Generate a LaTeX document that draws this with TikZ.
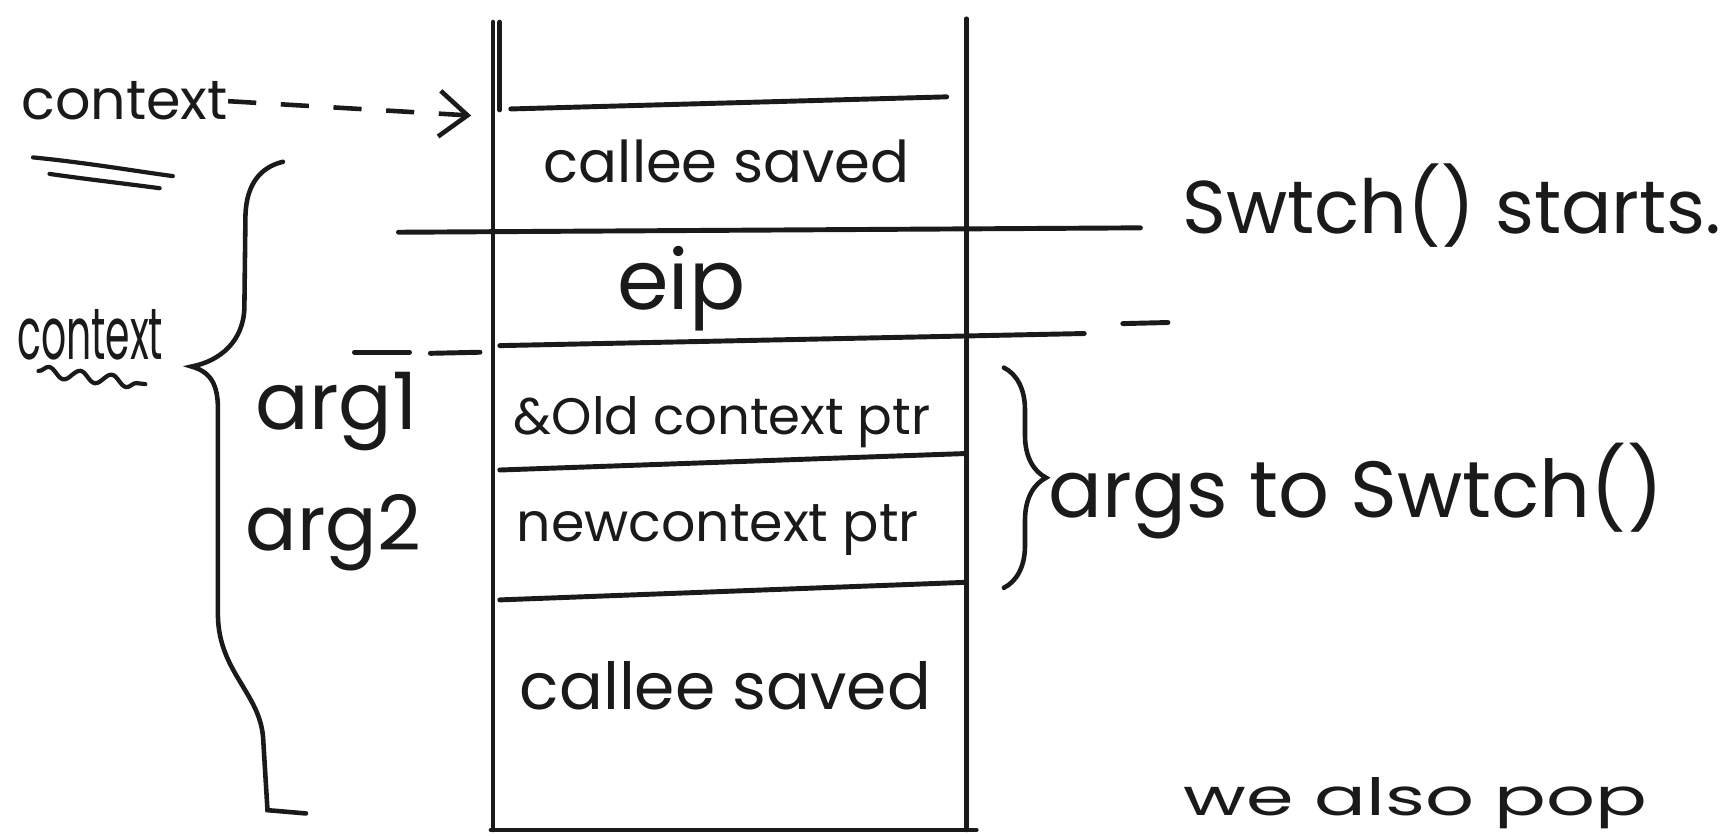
\documentclass[tikz,border=0pt]{standalone}
\usepackage{fontspec}
\setmainfont{Poppins}
\usetikzlibrary{arrows.meta,decorations.pathreplacing,decorations.pathmorphing}
\definecolor{ink}{HTML}{1A1A1A}
\newcommand{\fitw}[2]{\resizebox{#1}{!}{#2}}
\newcommand{\fitwh}[3]{\resizebox{#1}{#2}{#3}}
\begin{document}
\begin{tikzpicture}[x=0.011cm,y=-0.011cm,
  lbl/.style={inner sep=0pt, text=ink, anchor=base},
  wall/.style={line width=1.3pt, draw=ink, line cap=round},
  slot/.style={line width=1.4pt, draw=ink, line cap=round},
  uline/.style={line width=1.2pt, draw=ink, line cap=round},
  dashlink/.style={line width=1.3pt, draw=ink, dash pattern=on 8pt off 7pt, -{Straight Barb[length=8pt,width=13pt,line width=1.3pt]}},
  bracepath/.style={line width=1.3pt, draw=ink, line cap=round}]
\useasboundingbox (0,0) rectangle (1568,759);

% labels
\node[lbl] (ctxt) at (113,109) {\fitw{2.06cm}{context}};
\node[lbl] (ctx2) at (82,327) {\fitwh{1.46cm}{0.5cm}{context}};
\node[lbl] (arg1) at (306,390) {\fitw{1.62cm}{arg1}};
\node[lbl] (arg2) at (303,500) {\fitw{1.75cm}{arg2}};
\node[lbl] (cs1) at (660,166) {\fitw{3.65cm}{callee saved}};
\node[lbl] (eip) at (619,281) {\fitw{1.28cm}{eip}};
\node[lbl] (old) at (656,395) {\fitw{4.16cm}{\&Old context ptr}};
\node[lbl] (new) at (652,492) {\fitw{4.02cm}{newcontext ptr}};
\node[lbl] (cs2) at (659,645) {\fitw{4.11cm}{callee saved}};
\node[lbl] (starts) at (1319,212) {\fitw{5.39cm}{Swtch() starts.}};
\node[lbl] (args) at (1232,470) {\fitw{6.14cm}{args to Swtch()}};
\node[lbl] (pop) at (1286,741) {\fitwh{4.63cm}{0.38cm}{we also pop}};

% arrow from context to stack top
\coordinate (top) at (428,105);
\draw[dashlink] (ctxt.east) -- (top);

% underlines
\draw[uline] (30,143) .. controls (80,148) and (120,155) .. (157,160);
\draw[uline] (45,158) .. controls (80,163) and (115,167) .. (145,171);
\draw[uline, decorate, decoration={snake,amplitude=1.5pt,segment length=9pt}] (35,337) -- (132,349);

% stack walls
\draw[wall] (448,20) -- (448,754);
\draw[wall] (454,20) -- (454,100);
\draw[wall] (878,17) -- (878,754);
\draw[wall] (446,754) -- (887,754);

% slots
\draw[slot] (464,99) -- (860,88);
\draw[slot] (362,211) -- (1036,207);
\draw[slot] (322,320) -- (372,320);
\draw[slot] (391,321) -- (436,320);
\draw[slot] (454,314) -- (985,303);
\draw[slot] (1020,294) -- (1061,293);
\draw[slot] (454,427) -- (878,412);
\draw[slot] (454,545) -- (878,529);

% left brace (context)
\draw[bracepath] (257,147) .. controls (236,152) and (224,168) .. (223,195)
  -- (222,280) .. controls (221,310) and (200,328) .. (174,333)
  .. controls (192,338) and (198,350) .. (198,372)
  -- (198,560) .. controls (199,610) and (236,630) .. (239,670)
  -- (243,736) -- (278,739);

% right brace (args)
\draw[bracepath, decorate, decoration={brace,amplitude=12pt}] (912,334) -- (912,534);
\end{tikzpicture}
\end{document}
